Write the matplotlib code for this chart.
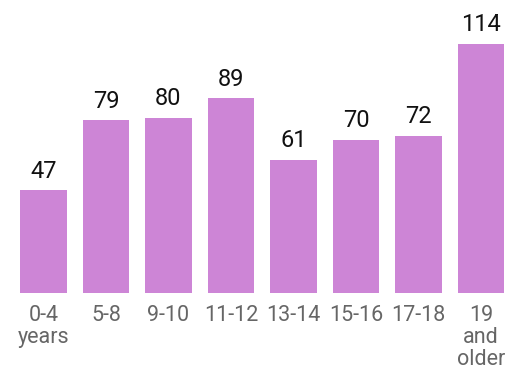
import matplotlib
matplotlib.use("Agg")
from matplotlib import pyplot as plt

# Data
categories = ["0-4\nyears", "5-8", "9-10", "11-12", "13-14", "15-16", "17-18", "19\nand\nolder"]
values = [47, 79, 80, 89, 61, 70, 72, 114]

plt.rcParams['font.family'] = ['Roboto', 'DejaVu Sans']

fig = plt.figure(figsize=(5.17, 3.72), dpi=100)
ax = fig.add_axes([0.0237, 0.2124, 0.967, 0.705])

x = range(len(categories))
bars = ax.bar(x, values, width=0.75, color='#CD85D6')

for b, v in zip(bars, values):
    ax.text(b.get_x() + b.get_width() / 2, v + 3.5, str(v),
            ha='center', va='bottom', fontsize=17, color='#111111')

ax.set_xlim(-0.5, len(categories) - 0.5)
ax.set_ylim(0, 120)
ax.set_xticks(list(x))
ax.set_xticklabels(categories, fontsize=15.5, color='#666666', linespacing=1.05, va='top')
ax.tick_params(axis='x', length=0, pad=9)
ax.set_yticks([])
for s in ax.spines.values():
    s.set_visible(False)

fig.savefig('out.png', dpi=100)
